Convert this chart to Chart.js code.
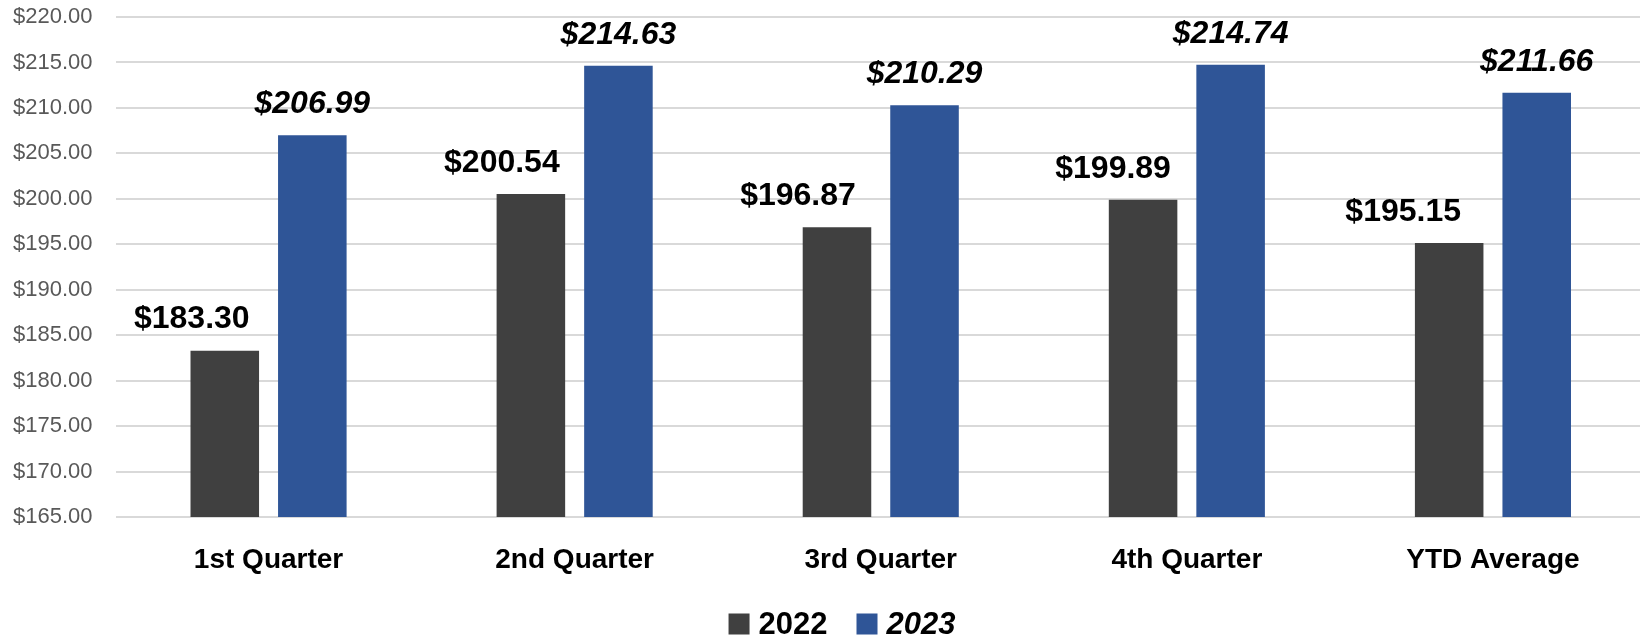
<!DOCTYPE html>
<html>
<head>
<meta charset="utf-8">
<script src="https://cdn.jsdelivr.net/npm/chart.js@4/dist/chart.umd.min.js"></script>
<style>
  html, body { margin: 0; padding: 0; overflow: hidden; background: #fff; }
</style>
</head>
<body>
<canvas id="grafica" width="1646" height="641"></canvas>
<script>
const categories = ["1st Quarter", "2nd Quarter", "3rd Quarter", "4th Quarter", "YTD Average"]
const seriesNames = ["2022", "2023"]
const values2022 = [183.30, 200.54, 196.87, 199.89, 195.15]
const values2023 = [206.99, 214.63, 210.29, 214.74, 211.66]

// label nudges as placed in the original (2022 labels sit left of their bars)
const labelShift = [[-33, -29, -39, -30, -46], [0, 0, 0, 0, 0]]
const colors = ['#404040', '#2F5597']
const FONT = '"Liberation Sans", Arial, sans-serif'

const money = v => '$' + v.toFixed(2)

// value labels above the bars
const valueLabels = {
    id: 'valueLabels',
    afterDatasetsDraw(chart) {
        const ctx = chart.ctx
        ctx.save()
        ctx.fillStyle = '#000'
        ctx.textAlign = 'center'
        ctx.textBaseline = 'middle'
        chart.data.datasets.forEach((ds, d) => {
            ctx.font = (d === 1 ? 'italic ' : '') + 'bold 32px ' + FONT
            chart.getDatasetMeta(d).data.forEach((bar, i) => {
                ctx.fillText(money(ds.data[i]), bar.x + labelShift[d][i], bar.y - 31)
            })
        })
        ctx.restore()
    }
}

// legend drawn by hand so 2023 can be italic like the original
const legendCenterX = 842
const legendCenterY = 624
const bottomLegend = {
    id: 'bottomLegend',
    afterDraw(chart) {
        const ctx = chart.ctx
        const box = 21, gapBox = 9, gapItem = 29
        ctx.save()
        ctx.textBaseline = 'middle'
        ctx.textAlign = 'left'
        const items = chart.data.datasets.map((ds, d) => {
            ctx.font = (d === 1 ? 'italic ' : '') + 'bold 31px ' + FONT
            return { text: ds.label, font: ctx.font, color: ds.backgroundColor, w: ctx.measureText(ds.label).width }
        })
        let total = 0
        items.forEach((it, i) => { total += box + gapBox + it.w + (i < items.length - 1 ? gapItem : 0) })
        let x = legendCenterX - total / 2
        items.forEach(it => {
            ctx.fillStyle = it.color
            ctx.fillRect(x, legendCenterY - box / 2, box, box)
            x += box + gapBox
            ctx.font = it.font
            ctx.fillStyle = '#000'
            ctx.fillText(it.text, x, legendCenterY + 1)
            x += it.w + gapItem
        })
        ctx.restore()
    }
}

const data = {
    labels: categories,
    datasets: [
        { label: seriesNames[0], data: values2022, backgroundColor: colors[0] },
        { label: seriesNames[1], data: values2023, backgroundColor: colors[1] }
    ]
}

const config = {
    type: 'bar',
    data: data,
    options: {
        responsive: false,
        devicePixelRatio: 1,
        animation: false,
        layout: { padding: { top: 17, right: 0, bottom: 64, left: 0 } },
        datasets: {
            bar: { categoryPercentage: 0.572, barPercentage: 0.783 }
        },
        plugins: {
            legend: { display: false },
            tooltip: { enabled: false }
        },
        scales: {
            x: {
                grid: { display: false, drawTicks: false },
                border: { display: false },
                ticks: {
                    color: '#000',
                    font: { family: FONT, size: 28, weight: 'bold' },
                    padding: 26,
                    maxRotation: 0
                },
                afterFit: s => { s.height = 60 }
            },
            y: {
                min: 165,
                max: 220,
                grid: { color: '#d9d9d9', lineWidth: 2, drawTicks: false },
                border: { display: false },
                ticks: {
                    stepSize: 5,
                    color: '#595959',
                    font: { family: FONT, size: 22 },
                    padding: 23,
                    callback: v => money(v)
                },
                afterFit: s => {
                    s.width = 115.5
                    s.paddingTop = 0
                    s.paddingBottom = 0
                }
            }
        }
    },
    plugins: [valueLabels, bottomLegend]
}

const graph = document.querySelector("#grafica")
new Chart(graph, config)
</script>
</body>
</html>
